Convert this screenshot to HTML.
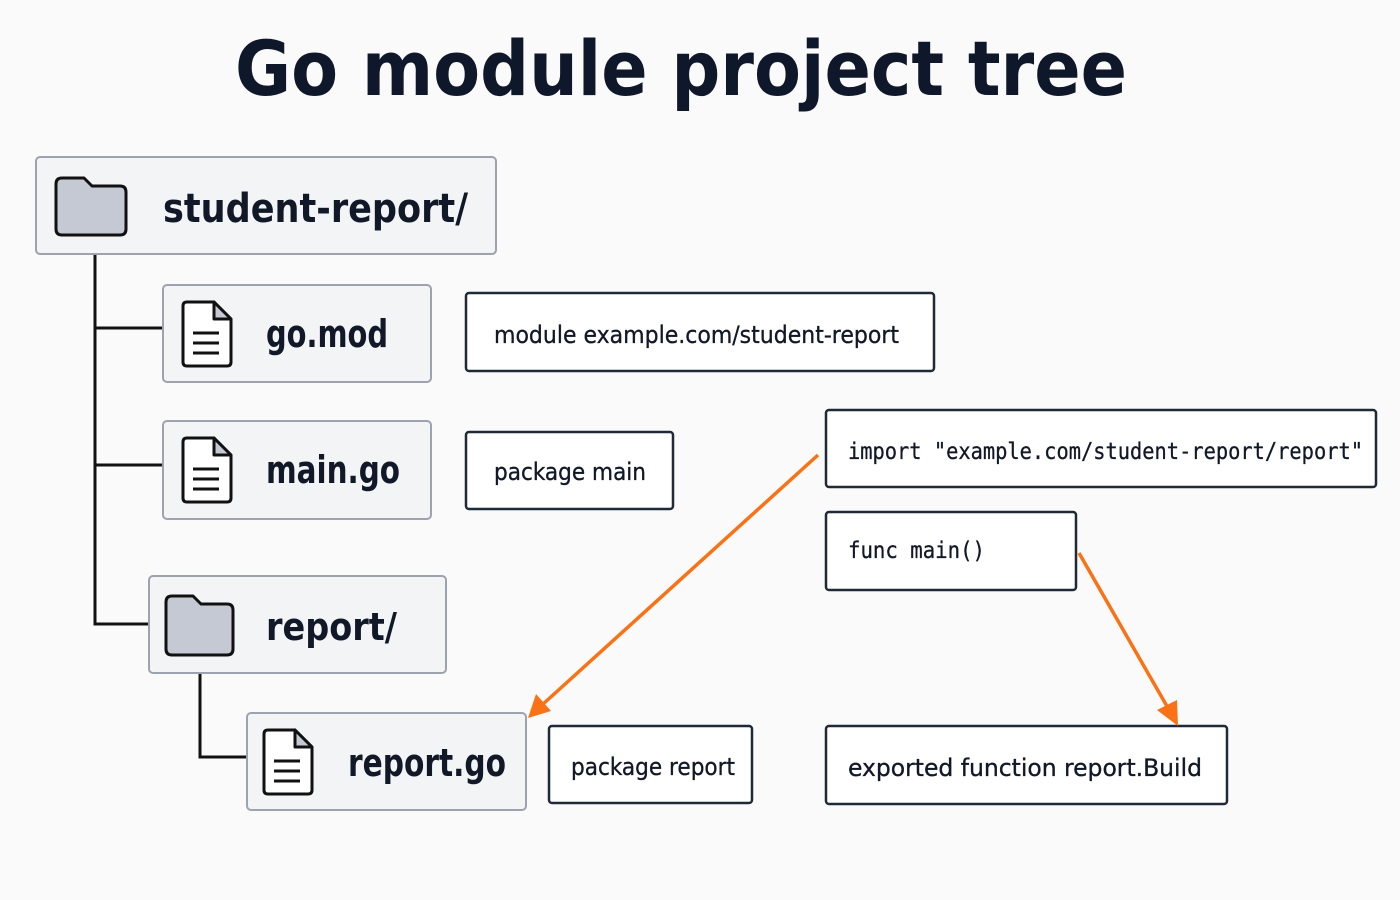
<!DOCTYPE html>
<html><head><meta charset="utf-8"><style>
html,body{margin:0;padding:0;background:#fafafa;}
svg{display:block}
.lbl{font-family:"DejaVu Sans Condensed","DejaVu Sans","Liberation Sans",sans-serif;font-weight:bold;fill:#111827}
.ann{font-family:"DejaVu Sans Condensed","DejaVu Sans","Liberation Sans",sans-serif;font-size:24px;fill:#111827;stroke:#111827;stroke-width:0.3}
.mono{font-family:"DejaVu Sans Mono","Liberation Mono",monospace;font-size:23px;fill:#111827;stroke:#111827;stroke-width:0.3}
</style></head><body>
<svg width="1400" height="900" viewBox="0 0 1400 900" xmlns="http://www.w3.org/2000/svg">
<rect width="1400" height="900" fill="#fafafa"/>
<text x="235" y="95" textLength="892" lengthAdjust="spacingAndGlyphs" style="font-family:'DejaVu Sans','Liberation Sans',sans-serif;font-weight:bold;font-size:76px;fill:#0f172a">Go module project tree</text>

<g stroke="#111" stroke-width="3" fill="none">
<path d="M95 254 V624 H149"/>
<path d="M95 328 H163"/>
<path d="M95 465 H163"/>
<path d="M200 673 V757 H247"/>
</g>

<g fill="#f3f4f6" stroke="#9ca3af" stroke-width="2">
<rect x="36" y="157" width="460" height="97" rx="4"/>
<rect x="163" y="285" width="268" height="97" rx="4"/>
<rect x="163" y="421" width="268" height="98" rx="4"/>
<rect x="149" y="576" width="297" height="97" rx="4"/>
<rect x="247" y="713" width="279" height="97" rx="4"/>
</g>

<g fill="#c4c9d3" stroke="#111" stroke-width="3" stroke-linejoin="round">
<path d="M56 184 Q56 178 62 178 H84 L92 186 H120 Q126 186 126 192 V229 Q126 235 120 235 H62 Q56 235 56 229 Z"/>
<path d="M166 602 Q166 596 172 596 H193 L201 604 H227 Q233 604 233 610 V649 Q233 655 227 655 H172 Q166 655 166 649 Z"/>
</g>
<g stroke="#111" stroke-width="3" fill="#fff" stroke-linejoin="round">
<g id="doc">
<path d="M187 302 H214 L231 319 V362 Q231 366 227 366 H187 Q183 366 183 362 V306 Q183 302 187 302 Z"/>
<path d="M214 302 V319 H231 Z" fill="#c4c9d3"/>
<path d="M193 333 H219 M193 343 H219 M193 353 H219"/>
</g>
<use href="#doc" y="136"/>
<use href="#doc" x="81" y="428"/>
</g>

<text class="lbl" x="163" y="222" font-size="40" textLength="305" lengthAdjust="spacingAndGlyphs">student-report/</text>
<text class="lbl" x="266" y="347" font-size="38" textLength="122" lengthAdjust="spacingAndGlyphs">go.mod</text>
<text class="lbl" x="266" y="483" font-size="38" textLength="134" lengthAdjust="spacingAndGlyphs">main.go</text>
<text class="lbl" x="266" y="640" font-size="38" textLength="131" lengthAdjust="spacingAndGlyphs">report/</text>
<text class="lbl" x="348" y="776" font-size="38" textLength="158" lengthAdjust="spacingAndGlyphs">report.go</text>

<g fill="#fff" stroke="#1f2937" stroke-width="2.5">
<rect x="466" y="293" width="468" height="78" rx="3"/>
<rect x="466" y="432" width="207" height="77" rx="3"/>
<rect x="826" y="410" width="550" height="77" rx="3"/>
<rect x="826" y="512" width="250" height="78" rx="3"/>
<rect x="549" y="726" width="203" height="77" rx="3"/>
<rect x="826" y="726" width="401" height="78" rx="3"/>
</g>
<text class="ann" x="494" y="343" textLength="405" lengthAdjust="spacingAndGlyphs">module example.com/student-report</text>
<text class="ann" x="494" y="480" textLength="152" lengthAdjust="spacingAndGlyphs">package main</text>
<text class="mono" x="848" y="459" textLength="515" lengthAdjust="spacingAndGlyphs">import "example.com/student-report/report"</text>
<text class="mono" x="848" y="558" textLength="137" lengthAdjust="spacingAndGlyphs">func main()</text>
<text class="ann" x="571" y="775" textLength="164" lengthAdjust="spacingAndGlyphs">package report</text>
<text class="ann" x="848" y="776" textLength="354" lengthAdjust="spacingAndGlyphs">exported function report.Build</text>

<g stroke="#f97316" stroke-width="3.5" fill="none">
<path d="M818 455 L542 705"/>
<path d="M1079 553 L1168 708"/>
</g>
<g fill="#f97316">
<polygon points="528,718 536,694 551,711"/>
<polygon points="1178,726 1157,710 1177,700"/>
</g>
</svg>
</body></html>
